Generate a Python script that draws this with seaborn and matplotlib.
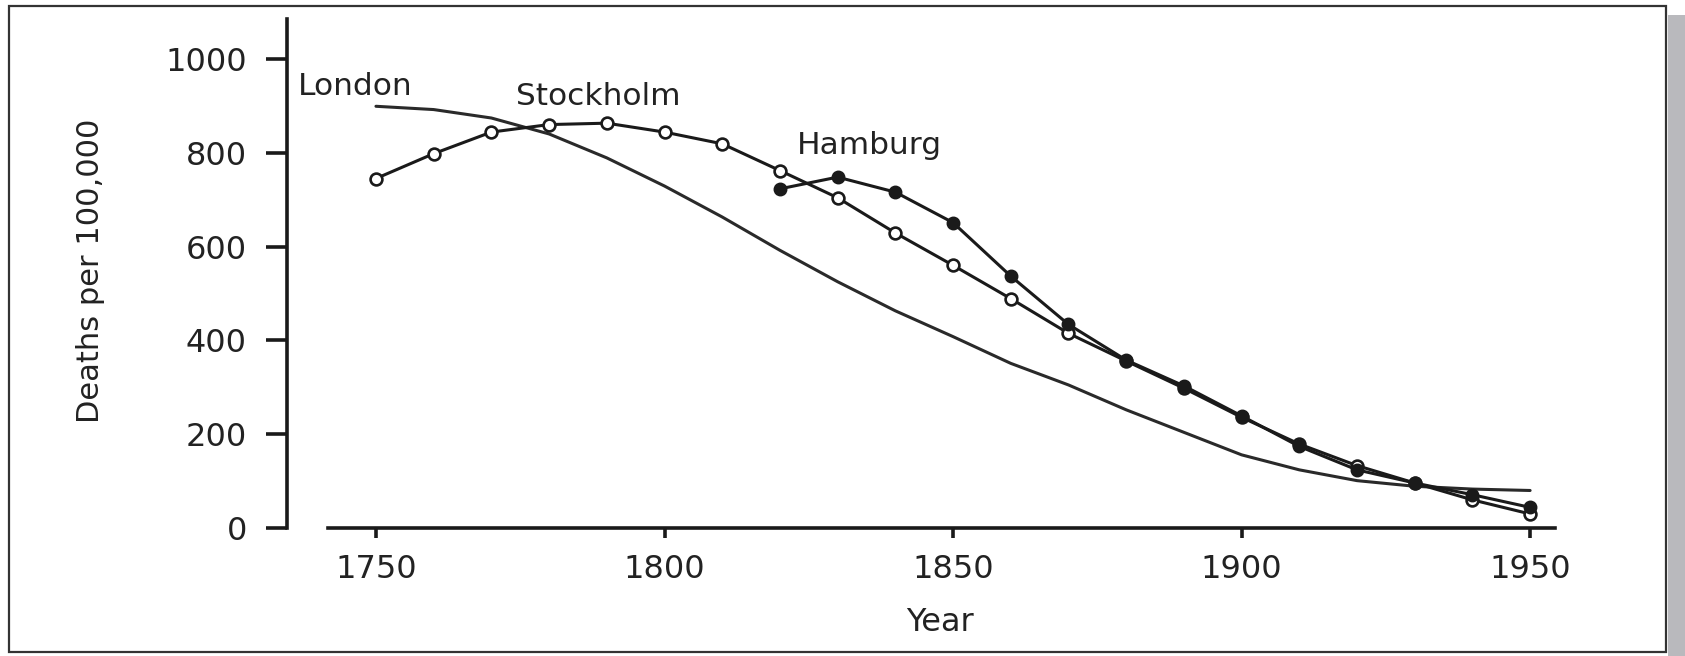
import matplotlib
matplotlib.use("Agg")
import matplotlib.pyplot as plt
from matplotlib.patches import Rectangle
import numpy as np
import pandas as pd
import seaborn as sns

# Tuberculosis mortality, deaths per 100,000 population
years = [1750, 1760, 1770, 1780, 1790, 1800, 1810, 1820, 1830, 1840, 1850,
         1860, 1870, 1880, 1890, 1900, 1910, 1920, 1930, 1940, 1950]
london = [899, 892, 874, 840, 789, 729, 663, 592, 525, 463, 408,
          351, 305, 252, 204, 156, 124, 101, 89, 83, 80]
stockholm = [745, 798, 844, 860, 863, 844, 819, 762, 704, 629, 560,
             489, 415, 356, 298, 236, 179, 133, 96, 60, 30]
hamburg_years = [1820, 1830, 1840, 1850, 1860, 1870, 1880, 1890, 1900,
                 1910, 1920, 1930, 1940, 1950]
hamburg = [723, 748, 716, 651, 537, 434, 358, 303, 239, 174, 124, 96, 71, 44]

x_ticks = [1750, 1800, 1850, 1900, 1950]
y_ticks = [0, 200, 400, 600, 800, 1000]

sns.set_theme(style="white")
plt.rcParams["font.family"] = ["DejaVu Sans"]

ink = "#1a1a1a"
df_lon = pd.DataFrame({"Year": years, "Deaths": london})
df_sto = pd.DataFrame({"Year": years, "Deaths": stockholm})
df_ham = pd.DataFrame({"Year": hamburg_years, "Deaths": hamburg})

fig = plt.figure(figsize=(16.85, 6.56), dpi=100)
ax = fig.add_axes([0.1947, 0.1951, 0.7281, 0.7759])

sns.lineplot(data=df_lon, x="Year", y="Deaths", ax=ax, color="#2a2a2a",
             linewidth=2.2, zorder=2)
sns.lineplot(data=df_sto, x="Year", y="Deaths", ax=ax, color=ink,
             linewidth=2.2, marker="o", markersize=8.5, markerfacecolor="white",
             markeredgecolor=ink, markeredgewidth=1.9, zorder=3)
sns.lineplot(data=df_ham, x="Year", y="Deaths", ax=ax, color=ink,
             linewidth=2.2, marker="o", markersize=8.5, markerfacecolor=ink,
             markeredgecolor=ink, markeredgewidth=1.5, zorder=4)

ax.set_xlim(1741.7, 1954.3)
ax.set_ylim(0, 1085)
ax.set_xticks(x_ticks)
ax.set_yticks(y_ticks)
ax.set_xticklabels([str(v) for v in x_ticks])
ax.set_yticklabels([str(v) for v in y_ticks])

for side in ("top", "right"):
    ax.spines[side].set_visible(False)
for side in ("left", "bottom"):
    ax.spines[side].set_color(ink)
    ax.spines[side].set_linewidth(2.6)
ax.spines["left"].set_position(("outward", 29.5))

ax.tick_params(axis="y", direction="out", length=15, width=2.6, color=ink,
               pad=14, labelsize=23, labelcolor="#222222", left=True)
ax.tick_params(axis="x", direction="out", length=7, width=2.6, color=ink,
               pad=12, labelsize=23, labelcolor="#222222", bottom=True)

ax.set_xlabel("Year", fontsize=23, color="#222222")
ax.set_ylabel("Deaths per 100,000", fontsize=22, color="#222222")
ax.xaxis.set_label_coords(0.499, -0.155)
ax.yaxis.set_label_coords(-0.182, 0.505)

lab = dict(fontsize=22.5, color="#222222", ha="left", va="baseline", clip_on=False)
ax.text(1736.4, 924, "London", **lab)
ax.text(1774.2, 901, "Stockholm", **lab)
ax.text(1823.0, 798, "Hamburg", **lab)

# page frame with a soft drop shadow on the right
fig.patches.append(Rectangle((1668 / 1685, 0), 17 / 1685, 641 / 656,
                             transform=fig.transFigure, facecolor="#b9b9bd",
                             edgecolor="none", zorder=0))
fig.patches.append(Rectangle((9 / 1685, 4 / 656), 1657 / 1685, 646 / 656,
                             transform=fig.transFigure, facecolor="none",
                             edgecolor="#333333", linewidth=1.6, zorder=1))

fig.savefig("out.png", dpi=100, facecolor="white")
